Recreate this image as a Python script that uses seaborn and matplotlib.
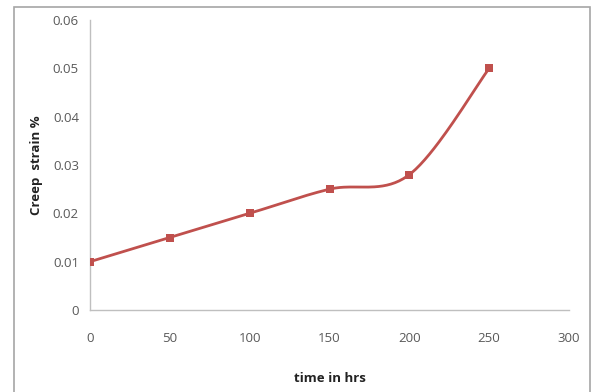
import numpy as np
import pandas as pd
import matplotlib
matplotlib.use("Agg")
import matplotlib.pyplot as plt
import seaborn as sns
from matplotlib.patches import Rectangle

time_hrs = [0, 50, 100, 150, 200, 250]
creep_strain = [0.01, 0.015, 0.02, 0.025, 0.028, 0.05]
x_ticks = [0, 50, 100, 150, 200, 250, 300]
y_ticks = [0, 0.01, 0.02, 0.03, 0.04, 0.05, 0.06]
y_tick_labels = ["0", "0.01", "0.02", "0.03", "0.04", "0.05", "0.06"]

LINE_COLOR = "#C0504D"
GRAY = "#595959"


def excel_smooth(xs, ys, n=40):
    """Excel-like smoothed line: cubic Bezier with Catmull-Rom control points."""
    P = np.column_stack([xs, ys]).astype(float)
    out = []
    for i in range(len(P) - 1):
        p0 = P[i - 1] if i > 0 else P[i]
        p1 = P[i]
        p2 = P[i + 1]
        p3 = P[i + 2] if i + 2 < len(P) else P[i + 1]
        c1 = p1 + (p2 - p0) / 6.0
        c2 = p2 - (p3 - p1) / 6.0
        t = np.linspace(0, 1, n)[:, None]
        seg = ((1 - t) ** 3) * p1 + 3 * ((1 - t) ** 2) * t * c1 + 3 * (1 - t) * t ** 2 * c2 + t ** 3 * p2
        out.append(seg if i == 0 else seg[1:])
    s = np.vstack(out)
    return s[:, 0], s[:, 1]


sns.set_theme(style="white")
plt.rcParams["font.family"] = ["Open Sans", "DejaVu Sans"]

fig = plt.figure(figsize=(5.94, 3.92), dpi=100)
ax = fig.add_axes([90 / 594, 1 - 310 / 392, (569 - 90) / 594, (310 - 20) / 392])

sx, sy = excel_smooth(time_hrs, creep_strain)
curve = pd.DataFrame({"t": sx, "s": sy})
pts = pd.DataFrame({"t": time_hrs, "s": creep_strain})
sns.lineplot(data=curve, x="t", y="s", ax=ax, color=LINE_COLOR, linewidth=2.0, sort=False, estimator=None)
sns.scatterplot(data=pts, x="t", y="s", ax=ax, color=LINE_COLOR, marker="s", s=32, edgecolor=LINE_COLOR, linewidth=0, zorder=5)

ax.set_xlim(0, 300)
ax.set_ylim(0, 0.06)
ax.set_xticks(x_ticks)
ax.set_xticklabels([str(v) for v in x_ticks])
ax.set_yticks(y_ticks)
ax.set_yticklabels(y_tick_labels)

for side in ["top", "right"]:
    ax.spines[side].set_visible(False)
for side in ["left", "bottom"]:
    ax.spines[side].set_color("#BFBFBF")
    ax.spines[side].set_linewidth(1.0)

ax.tick_params(axis="both", which="major", direction="out", length=4, width=1,
               color="#BFBFBF", labelcolor=GRAY, labelsize=9.5)
ax.tick_params(axis="x", pad=12)
ax.tick_params(axis="y", pad=4)

ax.set_xlabel("time in hrs", fontsize=9.5, fontweight="bold", color="#222222", labelpad=19)
ax.set_ylabel("Creep  strain %", fontsize=9.5, fontweight="bold", color="#222222", labelpad=7)

fig.patches.append(Rectangle((14 / 594, -0.05), (590 - 14) / 594, 1 - 7 / 392 + 0.05,
                             transform=fig.transFigure, fill=False, edgecolor="#A6A6A6",
                             linewidth=1.2, clip_on=False))

fig.savefig("out.png", dpi=100, facecolor="white")
